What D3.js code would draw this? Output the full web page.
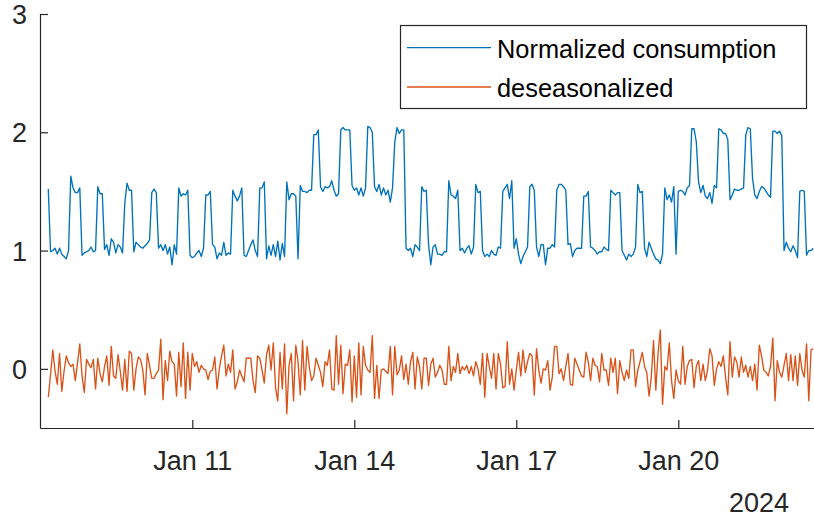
<!DOCTYPE html>
<html>
<head>
<meta charset="utf-8">
<script src="https://cdn.jsdelivr.net/npm/d3@7"></script>
<style>
  html, body { margin: 0; padding: 0; background: #fff; }
  svg { display: block; }
  text { font-family: "Liberation Sans", Arial, Helvetica, sans-serif; }
</style>
</head>
<body>
<svg id="chart" width="814" height="521"></svg>
<script>
// Hourly samples starting Jan 8 2024, 08:00
const startTime = Date.UTC(2024, 0, 8, 8);
const stepHours = 1;

const seriesNames = ["Normalized consumption", "deseasonalized"];

// Normalized consumption (hourly)
const consumption = [
  1.52, 0.99, 1.0, 1.02, 0.97, 1.02, 0.97, 0.95, 0.93, 1.0,
  1.63, 1.53, 1.49, 1.49, 1.53,
  0.96, 0.98, 0.99, 1.0, 1.03, 0.99, 1.0,
  1.54, 1.48, 1.48,
  1.01, 1.05, 0.96, 1.10, 1.07, 0.98, 1.05, 1.03, 0.98,
  1.40, 1.57, 1.51, 1.51,
  0.99, 1.07, 1.05, 1.03, 1.02, 1.04, 1.06, 1.09,
  1.49, 1.52, 1.49,
  1.02, 1.05, 1.0, 1.05, 0.97, 1.03, 0.88, 1.05, 0.97,
  1.53, 1.46, 1.48, 1.47, 1.51,
  0.96, 0.94, 0.95, 0.98, 1.0, 0.95, 1.02,
  1.47, 1.47, 1.5,
  1.05, 1.03, 0.93, 0.98, 0.96, 1.07, 0.96, 0.98, 0.97,
  1.51, 1.46, 1.42, 1.46, 1.53,
  0.96, 0.95, 1.0, 1.05, 1.09, 1.0, 0.95,
  1.53, 1.53, 1.58,
  0.93, 1.04, 0.96, 1.05, 0.95, 1.08, 0.92, 1.06, 0.95,
  1.58, 1.43, 1.48, 1.48, 1.46,
  0.93,
  1.55, 1.5, 1.5, 1.49, 1.51, 1.51,
  1.98, 1.98, 2.02,
  1.54, 1.5, 1.54, 1.53, 1.54, 1.59, 1.51, 1.46, 1.48,
  2.02, 2.04, 2.02, 2.02, 2.02,
  1.55, 1.51, 1.53, 1.47, 1.53, 1.46, 1.53,
  2.05, 2.04, 2.0,
  1.54, 1.5, 1.56, 1.47, 1.53, 1.47, 1.51, 1.41, 1.53,
  1.92, 2.04, 1.99, 2.02, 2.02,
  1.02,
  1.0, 1.02, 0.95, 1.05, 1.03, 1.0,
  1.54, 1.5, 1.51,
  1.05, 0.88, 1.03, 1.05, 0.97, 0.97, 0.96, 0.99, 0.99,
  1.59, 1.47, 1.46, 1.44, 1.51,
  1.0, 1.02, 0.98, 1.02, 1.04, 0.97, 1.03,
  1.56, 1.49, 1.5,
  1.0, 0.95, 0.97, 0.95, 1.0, 0.97, 0.96, 1.03, 1.02,
  1.5, 1.53, 1.56, 1.44, 1.59,
  1.02, 1.1, 0.97, 0.89, 0.95, 0.99, 1.03,
  1.54, 1.56, 1.51,
  1.03, 0.95, 1.05, 1.05, 0.88, 1.02, 1.02, 1.05, 1.03,
  1.51, 1.56, 1.56, 1.54, 1.51,
  1.05, 1.06, 0.95, 1.0, 1.02, 1.02, 1.02,
  1.46, 1.46, 1.5,
  1.03, 1.02, 1.0, 0.97, 0.99, 0.99, 1.03, 1.01, 1.0,
  1.51, 1.49, 1.47, 1.49, 1.49,
  1.0, 0.96, 0.92, 0.97, 0.95, 0.97, 1.03,
  1.56, 1.49, 1.5,
  1.02, 0.95, 1.07, 1.02, 0.97, 0.93, 0.92, 0.89, 0.97,
  1.53, 1.43, 1.47, 1.41, 1.54,
  0.97,
  1.5, 1.51, 1.5, 1.47, 1.53, 1.55,
  2.03, 2.03, 1.92,
  1.58, 1.49, 1.55, 1.46, 1.44, 1.49, 1.40, 1.55, 1.53,
  2.03, 2.02, 1.99, 1.99, 1.94,
  1.43, 1.47, 1.52, 1.51, 1.51, 1.52, 1.53,
  1.98, 2.04, 2.03,
  1.61, 1.47, 1.44, 1.5, 1.54, 1.53, 1.5, 1.47, 1.45,
  2.01, 2.01, 1.99, 2.01, 1.97,
  1.0, 1.07, 1.02, 0.99, 1.04, 1.0, 0.94,
  1.5, 1.51, 1.5,
  0.96, 1.0, 1.0, 1.02
];

// Deseasonalized residual (hourly)
const deseasonalized = [
  -0.24, -0.05, 0.16, -0.02, -0.13, 0.13, -0.19, -0.02, 0.11, 0.05,
  0.02, 0.04, -0.1, 0.05, 0.21, -0.06, -0.2, 0.08, 0.04, 0.01,
  0.08, -0.17, 0.09, -0.04, -0.11, 0.02, 0.11, -0.14, 0.19, -0.06,
  -0.08, 0.12, -0.02, -0.18, 0.08, -0.19, 0.15, 0.13, -0.18, 0.0,
  0.1, 0.08, -0.01, -0.22, 0.13, 0.03, -0.08, -0.08, -0.04, -0.01,
  0.25, -0.26, 0.07, -0.1, 0.15, 0.06, 0.04, -0.23, 0.14, -0.15,
  0.22, -0.25, 0.14, -0.18, 0.13, 0.02, 0.06, -0.03, 0.03, 0.0,
  -0.01, -0.09, -0.02, -0.01, 0.1, -0.17, 0.0, 0.11, 0.2, -0.06,
  0.04, -0.03, 0.16, -0.17, -0.11, -0.01, -0.06, -0.11, 0.09, 0.09,
  0.09, -0.1, -0.2, 0.11, 0.09, -0.01, -0.12, 0.12, 0.2, -0.01,
  0.22, -0.16, -0.27, 0.14, -0.17, 0.21, -0.38, 0.03, 0.13, -0.27,
  0.2, 0.06, -0.22, 0.24, -0.18, 0.19, 0.02, -0.1, -0.06, 0.09,
  0.03, -0.03, -0.15, 0.06, 0.03, 0.16, -0.17, -0.18, 0.28, -0.13,
  0.2, -0.21, 0.04, 0.03, 0.16, -0.28, 0.11, -0.24, 0.22, -0.22,
  0.19, 0.03, -0.01, -0.03, 0.28, -0.25, 0.03, -0.25, -0.01, 0.0,
  -0.02, -0.04, 0.19, -0.22, 0.19, -0.05, -0.01, 0.11, -0.09, 0.04,
  -0.13, 0.06, 0.14, -0.17, 0.1, 0.02, -0.17, 0.09, 0.09, -0.14,
  0.04, 0.09, -0.07, -0.03, 0.03, -0.01, -0.13, -0.13, 0.19, -0.1,
  0.02, -0.03, 0.13, -0.04, 0.02, -0.01, 0.03, -0.04, 0.02, -0.06,
  0.06, 0.0, -0.13, 0.13, -0.24, 0.13, 0.02, -0.08, 0.13, -0.17,
  0.13, 0.04, -0.16, -0.15, 0.23, -0.13, 0.0, -0.18, -0.01, 0.14,
  -0.06, 0.16, -0.03, 0.06, 0.13, 0.11, -0.22, 0.17, -0.01, -0.12,
  0.0, -0.01, 0.07, -0.18, -0.07, 0.19,
  0.19, -0.04, 0.0, -0.1, 0.02, 0.13, -0.13, -0.14, 0.09, 0.04,
  -0.01, -0.06, -0.07, 0.14, 0.06, -0.1, 0.09, 0.03, 0.02, -0.11,
  0.13, -0.01, -0.01, -0.14, 0.09, -0.03, 0.09, -0.21, 0.07, -0.03,
  -0.1, -0.01, -0.08, 0.16, 0.16, -0.15, -0.01, 0.06, 0.14, 0.02,
  -0.03, -0.23, -0.07, 0.24, -0.18, 0.13, 0.33, -0.3, 0.02, -0.01,
  0.22, -0.1, -0.25, -0.01, -0.1, -0.13, 0.19, -0.13, 0.02, 0.07,
  0.08, -0.16, 0.02, 0.07, -0.1, 0.04, -0.1, -0.01, 0.17, 0.11,
  -0.14, 0.0, 0.06, 0.02, 0.11, -0.07, -0.22, 0.23, -0.07, 0.1,
  0.06, -0.07, 0.1, -0.03, 0.03, -0.07, 0.02, -0.1, 0.04, -0.18,
  0.2, 0.11, -0.01, -0.03, -0.06, 0.02, 0.26, -0.27, 0.07, -0.03,
  -0.07, 0.03, 0.13, -0.1, 0.12, -0.1, 0.11, -0.14, 0.13, -0.01,
  -0.07, 0.21, -0.27, 0.16, 0.17
];

const yTicks = [0, 1, 2, 3];
const xTickDates = [
  new Date(Date.UTC(2024, 0, 11)),
  new Date(Date.UTC(2024, 0, 14)),
  new Date(Date.UTC(2024, 0, 17)),
  new Date(Date.UTC(2024, 0, 20))
];
const yearLabel = "2024";

const colors = ["#0072BD", "#D95319"];
const axisColor = "#262626";
const tickFont = "27px";

const svg = d3.select("#chart");
const plot = { left: 40, right: 814, top: 14, bottom: 428 };

const toPoints = vals => vals.map((v, i) => ({ t: new Date(startTime + i * stepHours * 3600e3), v }));
const seriesData = [toPoints(consumption), toPoints(deseasonalized)];

const x = d3.scaleUtc()
  .domain([new Date(Date.UTC(2024, 0, 8, 4, 19)), new Date(Date.UTC(2024, 0, 22, 12, 19))])
  .range([plot.left, plot.right]);
const y = d3.scaleLinear().domain([-0.5, 3]).range([plot.bottom, plot.top]);

// data lines
const line = d3.line().x(d => x(d.t)).y(d => y(d.v));
seriesData.forEach((data, k) => {
  svg.append("path")
    .datum(data)
    .attr("fill", "none")
    .attr("stroke", colors[k])
    .attr("stroke-width", 1.35)
    .attr("stroke-linejoin", "round")
    .attr("d", line);
});

// y axis
const yAxis = svg.append("g")
  .attr("transform", `translate(${plot.left},0)`)
  .call(d3.axisLeft(y).tickValues(yTicks).tickFormat(d3.format("d"))
    .tickSizeInner(-8).tickSizeOuter(0).tickPadding(13));

// x axis
const xAxis = svg.append("g")
  .attr("transform", `translate(0,${plot.bottom})`)
  .call(d3.axisBottom(x).tickValues(xTickDates).tickFormat(d3.utcFormat("%b %-d"))
    .tickSizeInner(-8).tickSizeOuter(0).tickPadding(23));

[yAxis, xAxis].forEach(g => {
  g.select(".domain").attr("stroke", axisColor).attr("stroke-width", 1.2);
  g.selectAll(".tick line").attr("stroke", axisColor).attr("stroke-width", 1.2);
  g.selectAll(".tick text")
    .attr("fill", axisColor)
    .style("font-size", tickFont)
    .style("font-family", "'Liberation Sans', Arial, Helvetica, sans-serif");
});
yAxis.selectAll(".tick text").attr("dy", "0.35em");

svg.append("text")
  .attr("x", 759)
  .attr("y", 512)
  .attr("text-anchor", "middle")
  .attr("fill", axisColor)
  .style("font-size", tickFont)
  .text(yearLabel);

// legend
const legend = svg.append("g");
legend.append("rect")
  .attr("x", 400.5).attr("y", 25.5)
  .attr("width", 406).attr("height", 83)
  .attr("fill", "#fff")
  .attr("stroke", axisColor)
  .attr("stroke-width", 1.2);
const legendRows = [47.7, 87];
seriesNames.forEach((name, k) => {
  legend.append("line")
    .attr("x1", 407).attr("x2", 491)
    .attr("y1", legendRows[k]).attr("y2", legendRows[k])
    .attr("stroke", colors[k])
    .attr("stroke-width", 1.3);
  legend.append("text")
    .attr("x", 497)
    .attr("y", legendRows[k] + 10)
    .attr("fill", "#000")
    .style("font-size", "25.4px")
    .text(name);
});
</script>
</body>
</html>
